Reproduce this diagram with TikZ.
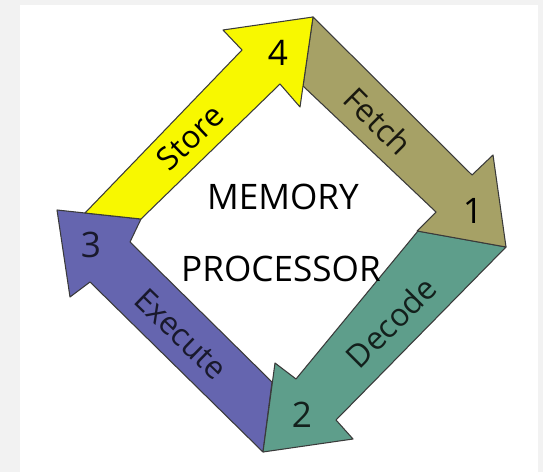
\documentclass[tikz,border=0pt]{standalone}
\usepackage{fontspec}
\setmainfont{Open Sans}
\usepackage{xcolor}
\usepackage{tikz}
\usetikzlibrary{calc}
\definecolor{storeyellow}{HTML}{F8F800}
\definecolor{fetcholive}{HTML}{A6A166}
\definecolor{decodeteal}{HTML}{5E9E8B}
\definecolor{execpurple}{HTML}{6565AF}
\definecolor{edgegray}{HTML}{3A3A3A}
\definecolor{panelgray}{HTML}{F2F2F2}

\begin{document}
\begin{tikzpicture}[x=0.02cm, y=-0.02cm, line join=round,
  blockarrow/.style={draw=edgegray, line width=0.6pt},
  steplabel/.style={font=\fontsize{18}{20}\selectfont, inner sep=0pt},
  stepnum/.style={font=\fontsize{20}{22}\selectfont, inner sep=0pt},
  title/.style={font=\fontsize{20}{24}\selectfont, inner sep=0pt}]
\useasboundingbox (0,0) rectangle (543,472);
\fill[panelgray] (0,0) rectangle (543,472);
\fill[white] (20,5) rectangle (538,472);

% corners of the cycle
\coordinate (tip4) at (313,17);
\coordinate (tip1) at (506,247);
\coordinate (tip2) at (263,452);
\coordinate (tip3) at (57,210);

% the four block arrows
\draw[blockarrow, fill=execpurple] (tip2) -- (90,282) -- (70,297) -- (tip3) -- (141,219) -- (130,242) -- (272,382) -- cycle;
\draw[blockarrow, fill=decodeteal] (tip1) -- (336,420) -- (353,439) -- (tip2) -- (275,363) -- (296,379) -- (418,231) -- cycle;
\draw[blockarrow, fill=fetcholive] (tip4) -- (472,175) -- (493,155) -- (tip1) -- (417,231) -- (436,212) -- (303,86) -- cycle;
\draw[blockarrow, fill=storeyellow] (85,213) -- (242,50) -- (223,30) -- (tip4) -- (300,107) -- (280,84) -- (141,219) -- cycle;

\node[title] (memory) at (283,197) {MEMORY};
\node[title] (processor) at (281,269) {PROCESSOR};

\node[steplabel, rotate=44] (store) at (190,137) {Store};
\node[steplabel, rotate=-45, text=fetcholive!15!black] (fetch) at (378,121) {Fetch};
\node[steplabel, rotate=45, text=decodeteal!20!black] (decode) at (391,322) {Decode};
\node[steplabel, rotate=-44, text=execpurple!25!black] (execute) at (181,334) {Execute};

\node[stepnum] (n4) at (278,53) {4};
\node[stepnum] (n1) at (473,211) {1};
\node[stepnum, text=decodeteal!20!black] (n2) at (302,415) {2};
\node[stepnum, text=execpurple!25!black] (n3) at (91,245) {3};
\end{tikzpicture}
\end{document}
